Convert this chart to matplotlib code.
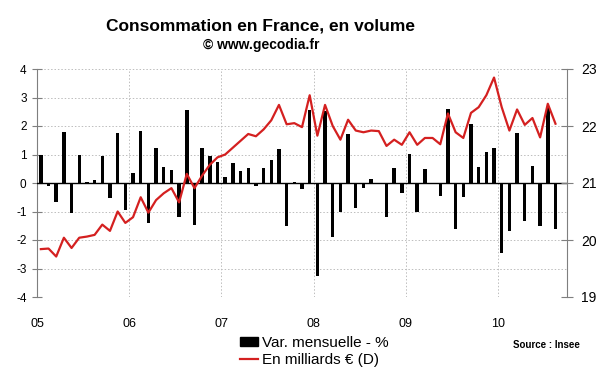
import matplotlib
matplotlib.use("Agg")
import matplotlib.pyplot as plt
import numpy as np
from matplotlib.patches import Patch
from matplotlib.lines import Line2D

plt.rcParams['font.family'] = ['Liberation Sans', 'DejaVu Sans']
plt.rcParams['axes.unicode_minus'] = False

year_labels = ["05", "06", "07", "08", "09", "10"]

var_mensuelle = [
    # 2005
    1.0, -0.1, -0.68, 1.8, -1.07, 1.0, 0.04, 0.12, 0.96, -0.54, 1.74, -0.94,
    # 2006
    0.36, 1.82, -1.42, 1.23, 0.55, 0.46, -1.2, 2.55, -1.48, 1.23, 0.94, 0.73,
    # 2007
    0.2, 0.7, 0.42, 0.52, -0.12, 0.52, 0.8, 1.2, -1.51, 0.05, -0.2, 2.57,
    # 2008
    -3.26, 2.52, -1.89, -1.0, 1.72, -0.87, -0.18, 0.14, -0.03, -1.21, 0.52, -0.34,
    # 2009
    1.03, -1.03, 0.49, 0.0, -0.46, 2.6, -1.6, -0.5, 2.08, 0.55, 1.08, 1.22,
    # 2010
    -2.44, -1.7, 1.76, -1.33, 0.61, -1.5, 2.66, -1.62,
]

milliards = [
    # 2005
    19.84, 19.85, 19.71, 20.04, 19.86, 20.04, 20.06, 20.09, 20.27, 20.16, 20.5, 20.3,
    # 2006
    20.4, 20.75, 20.48, 20.7, 20.82, 20.91, 20.66, 21.16, 20.91, 21.13, 21.32, 21.45,
    # 2007
    21.5, 21.62, 21.74, 21.86, 21.82, 21.94, 22.1, 22.37, 22.03, 22.05, 21.98, 22.54,
    # 2008
    21.83, 22.37, 22.0, 21.76, 22.11, 21.92, 21.89, 21.92, 21.91, 21.65, 21.76, 21.67,
    # 2009
    21.89, 21.67, 21.79, 21.79, 21.68, 22.22, 21.89, 21.79, 22.23, 22.33, 22.54, 22.85,
    # 2010
    22.33, 21.92, 22.29, 22.02, 22.14, 21.8, 22.39, 22.04,
]

months = np.arange(len(var_mensuelle)) + 0.5

fig = plt.figure(figsize=(6.0, 3.72), dpi=100)
ax = fig.add_axes([37/600, 1-297/372, (567-37)/600, (297-69)/372])
ax2 = ax.twinx()

grey = '#7f7f7f'

ax.bar(months, var_mensuelle, width=0.45, color='black', zorder=3)
ax.axhline(0, color='black', lw=1.0, zorder=4)
ax.set_ylim(-4, 4)
ax.set_xlim(0, 69)
ax.set_yticks(range(-4, 5))
ax.set_xticks([0, 12, 24, 36, 48, 60])
ax.set_xticklabels(year_labels)
ax.grid(True, which='major', color='#bdbdbd', linestyle=(0, (1.5, 2.0)), lw=0.7, zorder=0)

ax2.plot(months, milliards, color='#d42020', lw=1.6, zorder=5)
ax2.set_ylim(19, 23)
ax2.set_yticks([19, 20, 21, 22, 23])
ax2.set_xlim(0, 69)

for a in (ax, ax2):
    for s in ('top', 'bottom'):
        a.spines[s].set_visible(False)
ax.spines['right'].set_visible(False)
ax2.spines['left'].set_visible(False)
ax.spines['left'].set_color(grey)
ax2.spines['right'].set_color(grey)

ax.tick_params(axis='y', direction='inout', length=7, color=grey, labelsize=8.5, pad=4)
ax.tick_params(axis='x', length=0, labelsize=9, pad=15)
ax2.tick_params(axis='y', direction='inout', length=8, color=grey, labelsize=10, pad=6)

fig.text(0.435, 1-26/372, "Consommation en France, en volume", ha='center', va='center',
         fontsize=12.5, fontweight='bold')
fig.text(0.435, 1-44.5/372, "© www.gecodia.fr", ha='center', va='center',
         fontsize=10, fontweight='bold')

handles = [Patch(facecolor='black', edgecolor='black'),
           Line2D([0], [0], color='#d42020', lw=1.6)]
fig.legend(handles, ["Var. mensuelle - %", "En milliards € (D)"],
           loc='upper left', bbox_to_anchor=(240/600, 1-336/372), frameon=False,
           fontsize=11, handlelength=1.2, handleheight=0.6, handletextpad=0.25,
           labelspacing=0.2, borderpad=0, borderaxespad=0)

fig.text(546/600, 1-345/372, "Source : Insee", ha='center', va='center',
         fontsize=7, fontweight='bold')

fig.savefig("out.png", dpi=100)
